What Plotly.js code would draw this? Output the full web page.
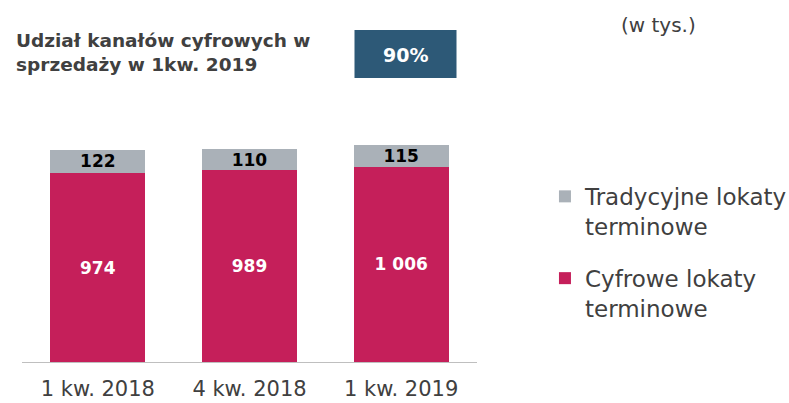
<!DOCTYPE html>
<html>
<head>
<meta charset="utf-8">
<script src="https://cdn.plot.ly/plotly-3.0.1.min.js"></script>
<style>
html, body { margin: 0; padding: 0; background: #fff; }
#chart { width: 789px; height: 403px; }
</style>
</head>
<body>
<div id="chart"></div>
<script>
const categories = ["1 kw. 2018", "4 kw. 2018", "1 kw. 2019"];
const cyfrowe = [974, 989, 1006];
const tradycyjne = [122, 110, 115];
const seriesNames = ["Cyfrowe lokaty<br>terminowe", "Tradycyjne lokaty<br>terminowe"];
const titleText = "Udział kanałów cyfrowych w<br>sprzedaży w 1kw. 2019";
const shareText = "90%";
const unitText = "(w tys.)";

const FONT = "'DejaVu Sans', sans-serif";
const MAGENTA = "#C51F5A";
const GRAY = "#AAB1B8";
const TEXT = "#404040";

const traces = [
  {
    type: "bar",
    x: categories,
    y: cyfrowe,
    name: seriesNames[0],
    legendgroup: "c",
    legendrank: 2,
    marker: { color: MAGENTA, line: { width: 0 } },
    texttemplate: "%{y:,}",
    textposition: "inside",
    insidetextanchor: "middle",
    constraintext: "none",
    textfont: { family: FONT, size: 17, color: "#ffffff", weight: "bold" },
    hoverinfo: "skip"
  },
  {
    type: "bar",
    x: categories,
    y: tradycyjne,
    name: seriesNames[1],
    legendgroup: "t",
    legendrank: 1,
    marker: { color: GRAY, line: { width: 0 } },
    texttemplate: "%{y:,}",
    textposition: "inside",
    insidetextanchor: "middle",
    constraintext: "none",
    textfont: { family: FONT, size: 17, color: "#000000", weight: "bold" },
    hoverinfo: "skip"
  }
];

const layout = {
  width: 789,
  height: 403,
  margin: { l: 21.5, r: 311.5, t: 110, b: 41.3, pad: 0 },
  paper_bgcolor: "#ffffff",
  plot_bgcolor: "#ffffff",
  barmode: "stack",
  bargap: 0.375,
  separators: ", ",
  showlegend: true,
  font: { family: FONT, color: TEXT },
  xaxis: {
    type: "category",
    range: [-0.5, 2.5],
    showgrid: false,
    zeroline: false,
    showline: true,
    linecolor: "#BFBFBF",
    linewidth: 1,
    ticks: "",
    ticklabelstandoff: 8,
    tickfont: { family: FONT, size: 21, color: TEXT },
    fixedrange: true
  },
  yaxis: {
    range: [0, 1300],
    visible: false,
    showgrid: false,
    zeroline: false,
    fixedrange: true
  },
  legend: {
    x: 0.6907,
    y: 0.566,
    xref: "container",
    yref: "container",
    xanchor: "left",
    yanchor: "top",
    traceorder: "grouped",
    tracegroupgap: 19,
    valign: "top",
    itemwidth: 30,
    font: { family: FONT, size: 23, color: TEXT },
    bgcolor: "rgba(0,0,0,0)"
  },
  shapes: [
    {
      type: "rect",
      xref: "paper", yref: "paper",
      xsizemode: "pixel", ysizemode: "pixel",
      xanchor: 0, yanchor: 1,
      x0: 332.5, x1: 434.5,
      y0: 32, y1: 80,
      fillcolor: "#2D5977",
      line: { width: 0 },
      layer: "above"
    }
  ],
  annotations: [
    {
      text: titleText,
      xref: "paper", yref: "paper",
      x: 0, y: 1,
      xanchor: "left", yanchor: "middle",
      xshift: -8.5, yshift: 57.5,
      align: "left",
      showarrow: false,
      font: { family: FONT, size: 18.5, color: TEXT, weight: "bold" }
    },
    {
      text: shareText,
      xref: "paper", yref: "paper",
      x: 0, y: 1,
      xanchor: "center", yanchor: "middle",
      xshift: 383.5, yshift: 55,
      showarrow: false,
      font: { family: FONT, size: 19, color: "#ffffff", weight: "bold" }
    },
    {
      text: unitText,
      xref: "paper", yref: "paper",
      x: 0, y: 1,
      xanchor: "center", yanchor: "middle",
      xshift: 636.5, yshift: 85,
      showarrow: false,
      font: { family: FONT, size: 20, color: TEXT }
    }
  ]
};

Plotly.newPlot("chart", traces, layout, { displayModeBar: false, staticPlot: true });
</script>
</body>
</html>
